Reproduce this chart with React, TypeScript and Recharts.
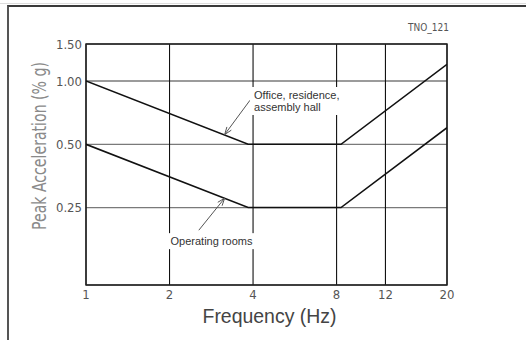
import { LineChart, Line, XAxis, YAxis, CartesianGrid, ReferenceArea, ReferenceLine, ReferenceDot, Label } from 'recharts';

// limit curves (frequency in Hz, peak acceleration in % g)
const frequencies = [1, 3.84, 8.3, 20];
const officeLimit = [1.0, 0.5, 0.5, 1.2];
const operatingLimit = [0.5, 0.25, 0.25, 0.6];

const xTicks = [1, 2, 4, 8, 12, 20];
const yTicks = [0.25, 0.5, 1.0, 1.5];
const xDomain = [1, 20];
const yDomain = [0.107, 1.5];

// annotations: label anchor and arrow (from, to) in data units
const officeLabel = { f: 4, a: 0.858, lines: ['Office, residence,', 'assembly hall'] };
const officeArrow = [{ x: 3.9, y: 0.81 }, { x: 3.16, y: 0.556 }];
const operatingLabel = { f: 2, a: 0.173, lines: ['Operating rooms'] };
const operatingArrow = [{ x: 2.55, y: 0.195 }, { x: 3.16, y: 0.277 }];

const data = frequencies.map((f, i) => ({ f, office: officeLimit[i], operating: operatingLimit[i] }));

const FONT = '"Liberation Sans", Arial, sans-serif';
const NARROW = '"Liberation Sans Narrow", "DejaVu Sans Condensed", sans-serif';

const Arrow = (props: any) => {
  const { x1, y1, x2, y2 } = props;
  const ang = Math.atan2(y2 - y1, x2 - x1);
  const len = 8;
  const spread = 0.35;
  const h1 = `${x2 - len * Math.cos(ang - spread)},${y2 - len * Math.sin(ang - spread)}`;
  const h2 = `${x2 - len * Math.cos(ang + spread)},${y2 - len * Math.sin(ang + spread)}`;
  return (
    <g stroke="#555" strokeWidth={1} fill="none">
      <line x1={x1} y1={y1} x2={x2} y2={y2} />
      <polyline points={`${h1} ${x2},${y2} ${h2}`} />
    </g>
  );
};

const boxedText = (lines: string[], width: number) => (props: any) => {
  const { cx, cy } = props;
  return (
    <g>
      <rect x={cx - 3} y={cy - 8} width={width} height={lines.length * 12 + 4} fill="#fff" />
      <text x={cx + 1} y={cy + 4} fontFamily={FONT} fontSize={11} fill="#333">
        {lines.map((s, i) => (
          <tspan key={i} x={cx + 1} dy={i === 0 ? 0 : 12}>{s}</tspan>
        ))}
      </text>
    </g>
  );
};

const hLine = (p: any) => (
  <line key={p.key} x1={p.x1} y1={p.y1} x2={p.x2} y2={p.y2} stroke="#7a7a7a" strokeWidth={1.3} />
);
const vLine = (p: any) => (
  <line key={p.key} x1={p.x1} y1={p.y1} x2={p.x2} y2={p.y2} stroke="#111" strokeWidth={1.1} />
);

export default function App() {
  return (
    <div style={{ position: 'absolute', left: 0, top: 0, width: 526, height: 340, background: '#fff' }}>
      <div style={{ position: 'absolute', left: 0, top: 3, width: 526, height: 1, background: '#ddd' }} />
      <div
        style={{
          position: 'absolute', left: 7, top: 5, right: 0, bottom: 0,
          borderTop: '2px solid #3a3a3a', borderLeft: '2px solid #555',
        }}
      />
      <div
        style={{
          position: 'absolute', right: 77, top: 22, fontFamily: NARROW, fontSize: 10, color: '#555',
          textAlign: 'right',
        }}
      >
        TNO_121
      </div>
      <div style={{ position: 'absolute', left: 0, top: 0 }}>
        <LineChart width={526} height={340} data={data} margin={{ top: 44, right: 79, bottom: 25, left: 26 }}>
          <CartesianGrid horizontal={hLine} vertical={vLine} />
          <XAxis
            dataKey="f"
            type="number"
            scale="log"
            domain={xDomain}
            ticks={xTicks}
            allowDataOverflow
            axisLine={false}
            tickLine={false}
            tickSize={0}
            tickMargin={5}
            height={30}
            tick={{ fontFamily: NARROW, fontSize: 13, fill: '#555' }}
          >
            <Label
              content={(p: any) => {
                const vb = p.viewBox;
                return (
                  <text
                    x={vb.x + vb.width / 2 + 3}
                    y={323}
                    textAnchor="middle"
                    fontFamily={FONT}
                    fontSize={20}
                    fill="#444"
                    textLength={134}
                    lengthAdjust="spacingAndGlyphs"
                  >
                    Frequency (Hz)
                  </text>
                );
              }}
            />
          </XAxis>
          <YAxis
            type="number"
            scale="log"
            domain={yDomain}
            ticks={yTicks}
            allowDataOverflow
            axisLine={false}
            tickLine={false}
            tickSize={0}
            tickMargin={4}
            width={60}
            tickFormatter={(v: number) => v.toFixed(2)}
            tick={{ fontFamily: NARROW, fontSize: 13, fill: '#555' }}
          >
            <Label
              content={() => (
                <text
                  x={0}
                  y={0}
                  transform="translate(46,146) rotate(-90)"
                  textAnchor="middle"
                  fontFamily={NARROW}
                  fontSize={19}
                  fill="#8a8a8a"
                  textLength={168}
                  lengthAdjust="spacingAndGlyphs"
                >
                  Peak Acceleration (% g)
                </text>
              )}
            />
          </YAxis>
          <ReferenceArea x1={xDomain[0]} x2={xDomain[1]} y1={yDomain[0]} y2={yDomain[1]} fill="none" stroke="#222" strokeWidth={1.4} fillOpacity={0} />
          <Line dataKey="office" type="linear" stroke="#111" strokeWidth={1.6} dot={false} isAnimationActive={false} />
          <Line dataKey="operating" type="linear" stroke="#111" strokeWidth={1.6} dot={false} isAnimationActive={false} />
          <ReferenceDot x={officeLabel.f} y={officeLabel.a} shape={boxedText(officeLabel.lines, 97)} />
          <ReferenceDot x={operatingLabel.f} y={operatingLabel.a} shape={boxedText(operatingLabel.lines, 92)} />
          <ReferenceLine segment={officeArrow} shape={Arrow} />
          <ReferenceLine segment={operatingArrow} shape={Arrow} />
        </LineChart>
      </div>
    </div>
  );
}
